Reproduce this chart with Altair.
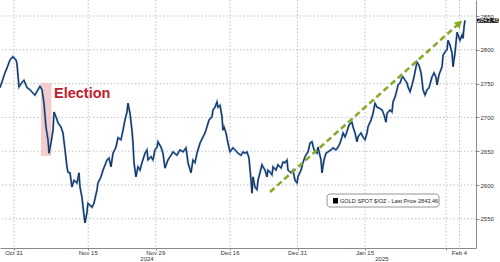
import altair as alt
import pandas as pd

# ---- data (x = trading-day index, 0 = Oct 31 2024) ----
day = [-2.07, -1.33, -1.04, -0.59, -0.15, 0.30, 0.44, 0.74, 1.19, 1.48, 1.93, 2.37, 2.81, 3.11, 3.56, 3.85,
       4.15, 4.44, 4.74, 5.04, 5.19, 5.48, 5.78, 5.93, 6.22, 6.52, 6.96, 7.26, 7.56, 7.85, 8.00, 8.30, 8.59,
       8.89, 9.33, 9.63, 9.78, 10.07, 10.22, 10.52, 10.81, 10.96,
       11.56, 11.85, 12.30, 12.44, 12.89, 13.19, 13.78, 14.07, 14.37, 14.67, 15.11, 15.41, 15.85, 16.15, 16.44,
       16.74, 16.89, 17.19, 17.48, 17.63, 17.78, 18.07, 18.37, 18.67, 18.96, 19.41, 19.70, 19.85, 20.30, 20.59,
       20.89, 21.19, 21.33, 21.78, 22.07, 22.37, 22.81, 23.26,
       23.56, 24.15, 24.59, 25.04, 25.48, 25.78, 26.22, 26.52, 26.81, 27.11, 27.56, 28.00, 28.30, 28.59, 28.89,
       29.33, 29.48, 29.78, 30.07, 30.22, 30.52, 30.81, 30.96, 31.11, 31.41, 31.70, 32.00, 32.44, 32.74, 33.19,
       33.63, 33.93, 34.22, 34.52, 34.81, 35.11, 35.26, 35.41, 35.70, 36.00,
       36.15, 36.44, 36.74, 36.89, 37.19, 37.48, 37.63, 37.93, 38.22, 38.37, 38.81, 39.11, 39.56, 39.85, 40.15,
       40.44, 40.59, 41.04, 41.33, 41.63, 41.93, 42.07, 42.52, 42.81, 43.11, 43.56, 43.85, 44.15, 44.44, 44.89,
       45.04, 45.48, 45.63, 45.93, 46.22, 46.52, 46.96, 47.26, 47.70, 48.00,
       48.30, 48.59, 48.74, 49.04, 49.33, 49.63, 50.07, 50.22, 50.52, 50.81, 50.96, 51.41, 51.70, 52.00, 52.30,
       52.44, 52.89, 53.19, 53.48, 53.78, 54.07, 54.52, 54.81, 55.11, 55.26, 55.70, 56.00, 56.15, 56.44, 56.74,
       56.89, 57.19, 57.48, 57.63, 57.93, 58.22, 58.37, 58.67, 58.96, 59.26, 59.56, 59.70, 60.00,
       60.30, 60.44, 60.59, 60.89, 61.19, 61.48, 61.93, 62.22, 62.52, 62.67, 62.96, 63.41, 63.56, 63.85, 64.15,
       64.30, 64.59, 64.89, 65.04, 65.33, 65.63, 65.78, 66.07, 66.37, 66.52, 66.67, 66.81]
price = [2744, 2766, 2773, 2785, 2790, 2785, 2780, 2745, 2752, 2755, 2744, 2741, 2736, 2733, 2741, 2746,
         2741, 2721, 2686, 2667, 2647, 2662, 2681, 2708, 2701, 2692, 2686, 2677, 2652, 2627, 2619, 2618, 2597,
         2607, 2603, 2618, 2597, 2582, 2568, 2544, 2559, 2573,
         2567, 2573, 2593, 2603, 2612, 2622, 2637, 2640, 2627, 2647, 2656, 2670, 2667, 2681, 2696,
         2708, 2721, 2706, 2681, 2662, 2633, 2612, 2627, 2622, 2633, 2647, 2652, 2637, 2642, 2637,
         2652, 2656, 2664, 2656, 2647, 2625, 2637, 2644,
         2649, 2644, 2652, 2649, 2655, 2633, 2618, 2637, 2633, 2647, 2662, 2671, 2677, 2686, 2696,
         2701, 2711, 2715, 2723, 2715, 2718, 2701, 2681, 2686, 2677, 2662, 2649, 2655, 2652, 2647,
         2644, 2649, 2647, 2649, 2640, 2607, 2588, 2612, 2597, 2593,
         2607, 2618, 2630, 2627, 2622, 2612, 2622, 2619, 2615, 2627, 2622, 2630, 2625, 2634, 2633,
         2637, 2622, 2618, 2622, 2607, 2603, 2612, 2622, 2633, 2642, 2649, 2662, 2664, 2652, 2647,
         2656, 2637, 2618, 2637, 2647, 2649, 2652, 2655, 2652, 2656,
         2662, 2671, 2677, 2671, 2679, 2689, 2693, 2686, 2677, 2664, 2671, 2677, 2671, 2667, 2677,
         2686, 2696, 2706, 2721, 2715, 2714, 2711, 2704, 2693, 2706, 2711, 2708, 2723, 2730, 2741,
         2748, 2751, 2759, 2760, 2755, 2751, 2745, 2738, 2748, 2760, 2775, 2782, 2777,
         2766, 2755, 2741, 2733, 2741, 2744, 2760, 2766, 2759, 2748, 2763, 2775, 2792, 2797, 2800,
         2814, 2807, 2795, 2775, 2795, 2826, 2822, 2814, 2822, 2817, 2834, 2843.46]

x_tick_days = [0, 11, 21, 32, 42, 52, 66]
x_tick_labels = ["Oct 31", "Nov 15", "Nov 29", "Dec 16", "Dec 31", "Jan 15", "Feb 4"]
x_grid_days = [0, 11, 21, 32, 42, 52, 64, 66]
x_minor_days = [5.5, 16, 27, 37, 47, 58, 64]
year_days = [19.7, 54.5]
year_labels = ["2024", "2025"]
y_ticks = [2550, 2600, 2650, 2700, 2750, 2800, 2850]
last_price = 2843.46
legend_text = "GOLD SPOT $/OZ - Last Price 2843.46"

# election band and trend arrow, in data units
election_days = [4.0, 5.55]
election_prices = [2643, 2751]
arrow_start = [37.93, 2589.7]
arrow_end = [65.85, 2838.2]
arrow_head = [65.97, 2839.5]

X_DOMAIN = [-2.07, 68.44]
Y_DOMAIN = [2506.8, 2873.7]
FONT = "Liberation Sans"
GRID = "#b9b9b9"

xs = alt.Scale(domain=X_DOMAIN, nice=False, zero=False)
ys = alt.Scale(domain=Y_DOMAIN, nice=False, zero=False)

x_axis = alt.Axis(values=sorted(x_tick_days + x_minor_days), labels=False, title=None, grid=False,
                  domainColor="#8a8a8a", tickColor="#8a8a8a", tickSize=2)
y_axis = alt.Axis(orient="right", values=y_ticks, format="d", title=None, grid=False,
                  domainColor="#8a8a8a", tickColor="#8a8a8a", tickSize=3, labelFontSize=6,
                  labelColor="#333333", labelPadding=1, labelFont=FONT, labelOverlap=False)

one = pd.DataFrame({"k": [0]})

vgrid = alt.Chart(pd.DataFrame({"d": x_grid_days})).mark_rule(
    color=GRID, strokeDash=[1.5, 2], strokeWidth=0.9
).encode(x=alt.X("d:Q", scale=xs, axis=x_axis))

hgrid = alt.Chart(pd.DataFrame({"v": y_ticks})).mark_rule(
    color=GRID, strokeDash=[1.5, 2], strokeWidth=0.9
).encode(y=alt.Y("v:Q", scale=ys, axis=y_axis))

band = alt.Chart(one).mark_rect(color="#f3c6c6", opacity=0.9).encode(
    x=alt.X(datum=election_days[0], type="quantitative", scale=xs),
    x2=alt.X2(datum=election_days[1]),
    y=alt.Y(datum=election_prices[0], type="quantitative", scale=ys),
    y2=alt.Y2(datum=election_prices[1]),
)

line_df = pd.DataFrame({"day": day, "price": price})
line_light = alt.Chart(line_df).mark_line(color="#4f86c6", strokeWidth=2.0, clip=True).encode(
    x=alt.X("day:Q", scale=xs), y=alt.Y("price:Q", scale=ys))
line_dark = alt.Chart(line_df).mark_line(color="#14213d", strokeWidth=0.9, clip=True).encode(
    x=alt.X("day:Q", scale=xs), y=alt.Y("price:Q", scale=ys))

election_text = alt.Chart(one).mark_text(
    text="Election", fontSize=14.5, fontWeight="bold", color="#c0202b", align="left",
    baseline="middle", font=FONT
).encode(x=alt.X(datum=5.93, type="quantitative", scale=xs),
         y=alt.Y(datum=2734.6, type="quantitative", scale=ys))

arrow_line = alt.Chart(one).mark_rule(color="#86ab2b", strokeWidth=2.6, strokeDash=[6, 3.5]).encode(
    x=alt.X(datum=arrow_start[0], type="quantitative", scale=xs),
    x2=alt.X2(datum=arrow_end[0]),
    y=alt.Y(datum=arrow_start[1], type="quantitative", scale=ys),
    y2=alt.Y2(datum=arrow_end[1]),
)
arrow_tip = alt.Chart(one).mark_point(shape="triangle-up", filled=True, size=70, angle=48,
                                      color="#86ab2b", opacity=1).encode(
    x=alt.X(datum=arrow_head[0], type="quantitative", scale=xs),
    y=alt.Y(datum=arrow_head[1], type="quantitative", scale=ys),
)

tag_box = alt.Chart(one).mark_rect(color="#000000", cornerRadius=1.5).encode(
    x=alt.value(477), x2=alt.value(499),
    y=alt.Y(datum=last_price + 3.4, type="quantitative", scale=ys),
    y2=alt.Y2(datum=last_price - 3.4),
)
tag_text = alt.Chart(one).mark_text(text=f"{last_price:.2f}", color="white", fontSize=6,
                                    align="center", baseline="middle", font=FONT).encode(
    x=alt.value(488), y=alt.Y(datum=last_price, type="quantitative", scale=ys))

legend_box = alt.Chart(one).mark_rect(fill="white", stroke="#7a7a7a", strokeWidth=0.8,
                                      cornerRadius=3).encode(
    x=alt.value(327), x2=alt.value(439), y=alt.value(194), y2=alt.value(207))
legend_sq = alt.Chart(one).mark_rect(color="#000000").encode(
    x=alt.value(333), x2=alt.value(338), y=alt.value(198), y2=alt.value(203.5))
legend_txt = alt.Chart(one).mark_text(text=legend_text, fontSize=5.6, color="#222222", align="left",
                                      baseline="middle", font=FONT).encode(
    x=alt.value(340), y=alt.value(200.8))

x_labels = alt.Chart(pd.DataFrame({"d": x_tick_days, "t": x_tick_labels})).mark_text(
    fontSize=6, color="#333333", align="center", baseline="middle", font=FONT
).encode(x=alt.X("d:Q", scale=xs), y=alt.value(253), text="t:N")

years = alt.Chart(pd.DataFrame({"d": year_days, "t": year_labels})).mark_text(
    fontSize=6, color="#333333", align="center", baseline="middle", font=FONT
).encode(x=alt.X("d:Q", scale=xs), y=alt.value(259), text="t:N")

chart = alt.layer(
    vgrid, hgrid, band, line_light, line_dark, election_text, arrow_line, arrow_tip,
    tag_box, tag_text, legend_box, legend_sq, legend_txt, x_labels, years
).properties(
    width=476, height=248,
    autosize=alt.AutoSizeParams(type="none"),
    padding={"left": 0, "top": 0, "right": 24, "bottom": 14},
    background="white",
).configure_view(strokeWidth=0)

chart.save("out.html", embed_options={"renderer": "svg", "actions": False})
